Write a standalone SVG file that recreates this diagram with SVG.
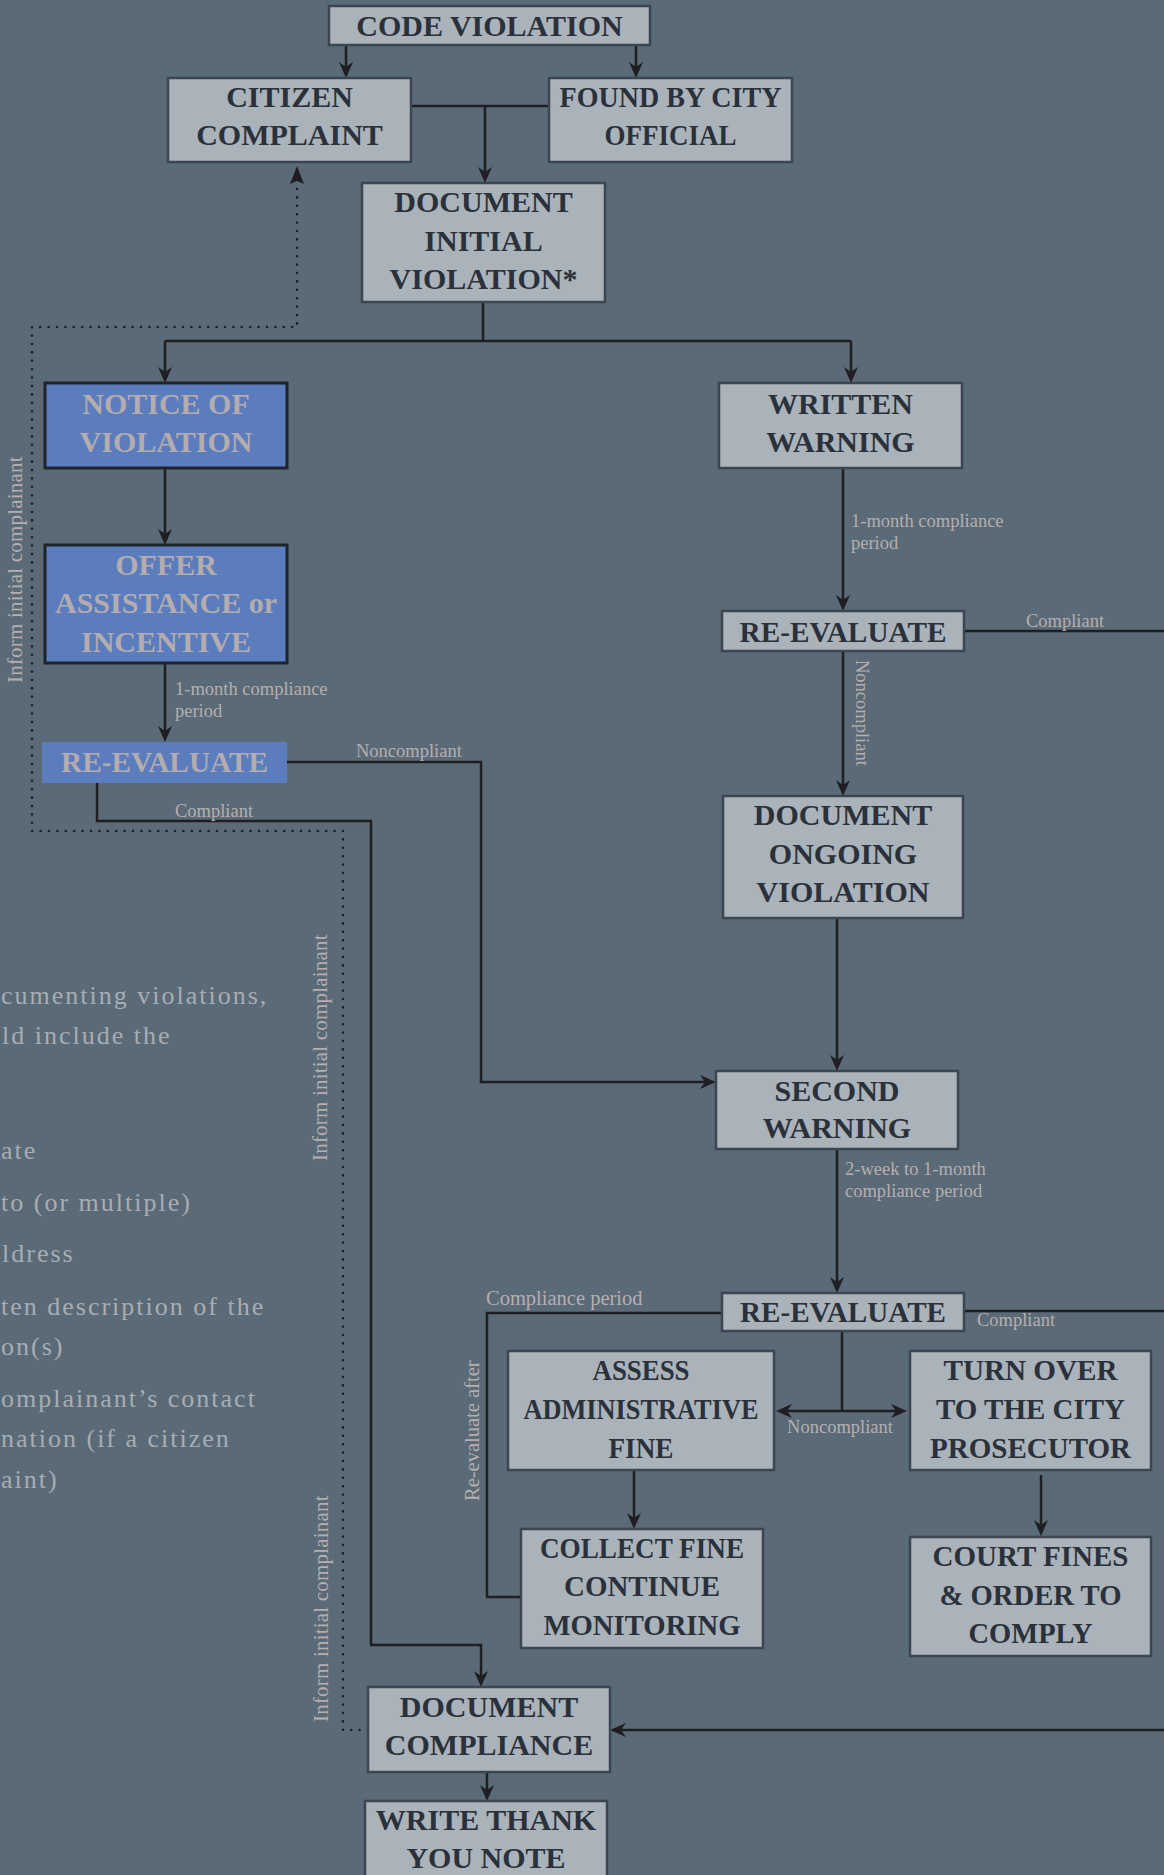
<svg xmlns="http://www.w3.org/2000/svg" width="1164" height="1875" viewBox="0 0 1164 1875">
<style>
.bg{fill:#5a6a76}
.box rect{fill:#aab2ba;stroke:#3c4650;stroke-width:2.5}
.blue rect{fill:#5b7dbe;stroke:#1f232a;stroke-width:3}
.blue rect.ns{stroke:none}
.nt{font-family:"Liberation Serif",serif;font-weight:bold;font-size:30px;fill:#2a313a;text-anchor:middle}
.blue .nt{fill:#b4acae}
.c{fill:none;stroke:#1f1e22;stroke-width:2.5}
.d{fill:none;stroke:#1f1e22;stroke-width:2.6;stroke-dasharray:0 8.4;stroke-linecap:round}
.lb{font-family:"Liberation Serif",serif;font-size:18.5px;fill:#b6aeb0}
.lb2{font-family:"Liberation Serif",serif;font-size:20.5px;fill:#b6aeb0}
.inf{font-family:"Liberation Serif",serif;font-size:21px;letter-spacing:0.2px;fill:#b6aeb0}
.side{font-family:"Liberation Serif",serif;font-size:26px;letter-spacing:2px;fill:#a8adb3}
</style>
<defs>
<marker id="ah" viewBox="-9 -8 18 16" refX="0" refY="0" markerWidth="18" markerHeight="16" markerUnits="userSpaceOnUse" orient="auto">
<path d="M8,0 L-8,-7 L-3,0 L-8,7 Z" fill="#1f1e22"/>
</marker>
</defs>
<rect class="bg" x="0" y="0" width="1164" height="1875"/>

<g id="side-note">
<text class="side" x="1" y="1004">cumenting violations,</text>
<text class="side" x="2" y="1044">ld include the</text>
<text class="side" x="1" y="1159">ate</text>
<text class="side" x="1" y="1211">to (or multiple)</text>
<text class="side" x="2" y="1262">ldress</text>
<text class="side" x="1" y="1315">ten description of the</text>
<text class="side" x="1" y="1355">on(s)</text>
<text class="side" x="1" y="1407">omplainant’s contact</text>
<text class="side" x="1" y="1447">nation (if a citizen</text>
<text class="side" x="1" y="1488">aint)</text>
</g>

<g id="connectors">
<path class="c" d="M346,45 V70" marker-end="url(#ah)"/>
<path class="c" d="M636,45 V70" marker-end="url(#ah)"/>
<path class="c" d="M411,106 H549"/>
<path class="c" d="M485,106 V175" marker-end="url(#ah)"/>
<path class="c" d="M483,302 V341"/>
<path class="c" d="M165,341 H851"/>
<path class="c" d="M165,341 V375" marker-end="url(#ah)"/>
<path class="c" d="M851,341 V375" marker-end="url(#ah)"/>
<path class="c" d="M165,468 V537" marker-end="url(#ah)"/>
<path class="c" d="M165,663 V734" marker-end="url(#ah)"/>
<path class="c" d="M287,762 H481 V1082 H708" marker-end="url(#ah)"/>
<path class="c" d="M97,783 V821 H371 V1645 H481 V1679" marker-end="url(#ah)"/>
<path class="c" d="M843,468 V603" marker-end="url(#ah)"/>
<path class="c" d="M964,631 H1164"/>
<path class="c" d="M843,651 V788" marker-end="url(#ah)"/>
<path class="c" d="M837,918 V1063" marker-end="url(#ah)"/>
<path class="c" d="M837,1149 V1285" marker-end="url(#ah)"/>
<path class="c" d="M964,1311 H1164"/>
<path class="c" d="M722,1313 H487 V1597 H521"/>
<path class="c" d="M842,1331 V1411"/>
<path class="c" d="M842,1411 H784" marker-end="url(#ah)"/>
<path class="c" d="M842,1411 H899" marker-end="url(#ah)"/>
<path class="c" d="M634,1470 V1521" marker-end="url(#ah)"/>
<path class="c" d="M1041,1475 V1528" marker-end="url(#ah)"/>
<path class="c" d="M1164,1730 H618" marker-end="url(#ah)"/>
<path class="c" d="M487,1772 V1793" marker-end="url(#ah)"/>
<path class="d" d="M368,1730 H343 V831 H32 V327 H297 V188"/>
<polygon points="297,166 290,184 297,181 304,184" fill="#1f1e22"/>
</g>

<g id="labels">
<text class="lb" x="175" y="695">1-month compliance</text>
<text class="lb" x="175" y="717">period</text>
<text class="lb" x="356" y="757">Noncompliant</text>
<text class="lb" x="175" y="817">Compliant</text>
<text class="lb" x="851" y="527">1-month compliance</text>
<text class="lb" x="851" y="549">period</text>
<text class="lb" x="1026" y="627">Compliant</text>
<text class="lb" transform="translate(856,660) rotate(90)">Noncompliant</text>
<text class="lb" x="845" y="1175">2-week to 1-month</text>
<text class="lb" x="845" y="1197">compliance period</text>
<text class="lb2" x="486" y="1305">Compliance period</text>
<text class="lb" x="977" y="1326">Compliant</text>
<text class="lb" x="840" y="1433" text-anchor="middle">Noncompliant</text>
<text class="lb2" transform="translate(479,1501) rotate(-90)">Re-evaluate after</text>
<text class="inf" transform="translate(22,683) rotate(-90)">Inform initial complainant</text>
<text class="inf" transform="translate(327,1161) rotate(-90)">Inform initial complainant</text>
<text class="inf" transform="translate(328,1722) rotate(-90)">Inform initial complainant</text>
</g>

<g id="code-violation" class="box"><rect x="329" y="6" width="321" height="39"/>
<text class="nt" x="489.5" y="36">CODE VIOLATION</text></g>

<g id="citizen-complaint" class="box"><rect x="168" y="78" width="243" height="84"/>
<text class="nt" x="289.5" y="107">CITIZEN</text>
<text class="nt" x="289.5" y="145">COMPLAINT</text></g>

<g id="found-by-city-official" class="box"><rect x="549" y="78" width="243" height="84"/>
<text class="nt" x="670.5" y="107" textLength="222" lengthAdjust="spacingAndGlyphs">FOUND BY CITY</text>
<text class="nt" x="670.5" y="145" textLength="132" lengthAdjust="spacingAndGlyphs">OFFICIAL</text></g>

<g id="document-initial-violation" class="box"><rect x="362" y="183" width="243" height="119"/>
<text class="nt" x="483.5" y="212">DOCUMENT</text>
<text class="nt" x="483.5" y="251">INITIAL</text>
<text class="nt" x="483.5" y="289">VIOLATION*</text></g>

<g id="notice-of-violation" class="blue"><rect x="45" y="383" width="242" height="85"/>
<text class="nt" x="166" y="414">NOTICE OF</text>
<text class="nt" x="166" y="452">VIOLATION</text></g>

<g id="offer-assistance" class="blue"><rect x="45" y="545" width="242" height="118"/>
<text class="nt" x="166" y="575">OFFER</text>
<text class="nt" x="166" y="613">ASSISTANCE or</text>
<text class="nt" x="166" y="652">INCENTIVE</text></g>

<g id="re-evaluate-1" class="blue"><rect class="ns" x="42" y="742" width="245" height="41"/>
<text class="nt" x="164.5" y="772" textLength="207" lengthAdjust="spacingAndGlyphs">RE-EVALUATE</text></g>

<g id="written-warning" class="box"><rect x="719" y="383" width="243" height="85"/>
<text class="nt" x="840.5" y="414">WRITTEN</text>
<text class="nt" x="840.5" y="452">WARNING</text></g>

<g id="re-evaluate-2" class="box"><rect x="722" y="611" width="242" height="40"/>
<text class="nt" x="843" y="642" textLength="207" lengthAdjust="spacingAndGlyphs">RE-EVALUATE</text></g>

<g id="document-ongoing-violation" class="box"><rect x="723" y="796" width="240" height="122"/>
<text class="nt" x="843" y="825">DOCUMENT</text>
<text class="nt" x="843" y="864">ONGOING</text>
<text class="nt" x="843" y="902">VIOLATION</text></g>

<g id="second-warning" class="box"><rect x="716" y="1071" width="242" height="78"/>
<text class="nt" x="837" y="1101">SECOND</text>
<text class="nt" x="837" y="1138">WARNING</text></g>

<g id="re-evaluate-3" class="box"><rect x="722" y="1293" width="242" height="38"/>
<text class="nt" x="843" y="1322" textLength="206" lengthAdjust="spacingAndGlyphs">RE-EVALUATE</text></g>

<g id="assess-fine" class="box"><rect x="508" y="1351" width="266" height="119"/>
<text class="nt" x="641" y="1380" textLength="97" lengthAdjust="spacingAndGlyphs">ASSESS</text>
<text class="nt" x="641" y="1419" textLength="235" lengthAdjust="spacingAndGlyphs">ADMINISTRATIVE</text>
<text class="nt" x="641" y="1458" textLength="65" lengthAdjust="spacingAndGlyphs">FINE</text></g>

<g id="turn-over-prosecutor" class="box"><rect x="910" y="1351" width="241" height="119"/>
<text class="nt" x="1030.5" y="1380" textLength="174" lengthAdjust="spacingAndGlyphs">TURN OVER</text>
<text class="nt" x="1030.5" y="1419" textLength="189" lengthAdjust="spacingAndGlyphs">TO THE CITY</text>
<text class="nt" x="1030.5" y="1458" textLength="201" lengthAdjust="spacingAndGlyphs">PROSECUTOR</text></g>

<g id="collect-fine" class="box"><rect x="521" y="1529" width="242" height="119"/>
<text class="nt" x="642" y="1558" textLength="204" lengthAdjust="spacingAndGlyphs">COLLECT FINE</text>
<text class="nt" x="642" y="1596" textLength="156" lengthAdjust="spacingAndGlyphs">CONTINUE</text>
<text class="nt" x="642" y="1635" textLength="197" lengthAdjust="spacingAndGlyphs">MONITORING</text></g>

<g id="court-fines" class="box"><rect x="910" y="1537" width="241" height="119"/>
<text class="nt" x="1030.5" y="1566" textLength="196" lengthAdjust="spacingAndGlyphs">COURT FINES</text>
<text class="nt" x="1030.5" y="1605" textLength="182" lengthAdjust="spacingAndGlyphs">&amp; ORDER TO</text>
<text class="nt" x="1030.5" y="1643" textLength="124" lengthAdjust="spacingAndGlyphs">COMPLY</text></g>

<g id="document-compliance" class="box"><rect x="368" y="1687" width="242" height="85"/>
<text class="nt" x="489" y="1717">DOCUMENT</text>
<text class="nt" x="489" y="1755">COMPLIANCE</text></g>

<g id="write-thank-you-note" class="box"><rect x="365" y="1801" width="242" height="100"/>
<text class="nt" x="486" y="1830">WRITE THANK</text>
<text class="nt" x="486" y="1868">YOU NOTE</text></g>
</svg>
